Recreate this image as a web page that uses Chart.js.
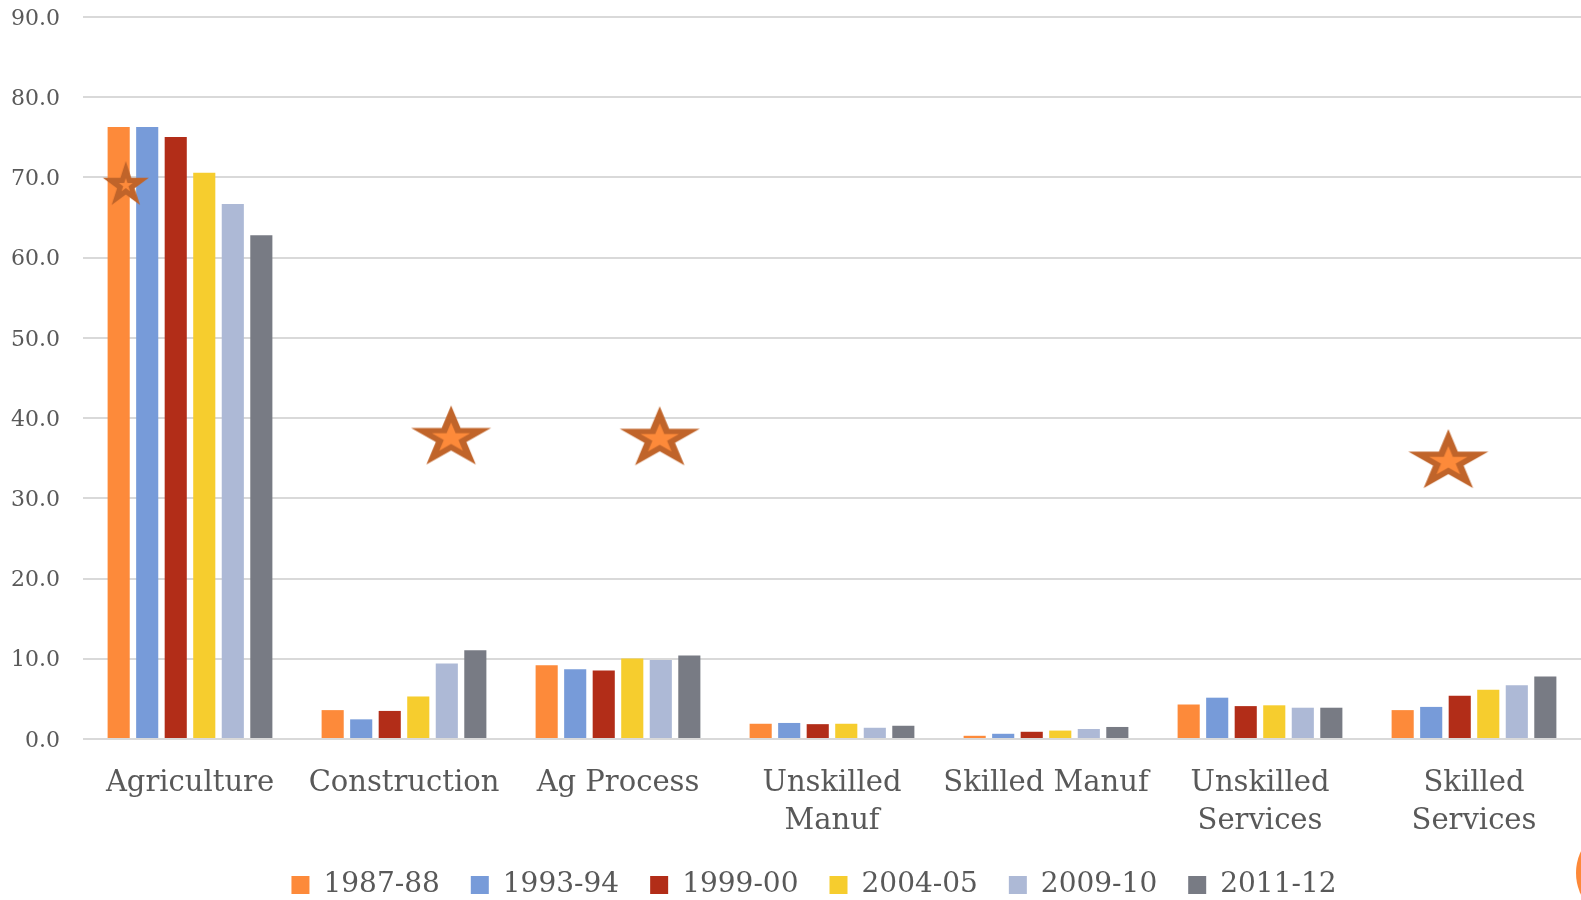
<!DOCTYPE html>
<html>
<head>
<meta charset="utf-8">
<title>Employment share by sector</title>
<script src="https://cdn.jsdelivr.net/npm/chart.js@4.4.1/dist/chart.umd.min.js"></script>
<style>
  html, body { margin: 0; padding: 0; background: #ffffff; overflow: hidden; width: 1581px; height: 900px; }
  #wrap { position: relative; width: 1581px; height: 900px; overflow: hidden; }
  #c { position: absolute; left: 0; top: 0; }
  #dot { position: absolute; left: 1576px; top: 823px; width: 100px; height: 100px; border-radius: 50%; background: #FD8838; }
</style>
</head>
<body>
<div id="wrap">
  <canvas id="c" width="1581" height="909"></canvas>
  <div id="dot"></div>
</div>
<script>
// Sectors (x-axis categories; arrays wrap onto two lines)
const categories = [
  'Agriculture',
  'Construction',
  'Ag Process',
  ['Unskilled', 'Manuf'],
  'Skilled Manuf',
  ['Unskilled', 'Services'],
  ['Skilled', 'Services']
];

// Survey rounds
const years = ['1987-88', '1993-94', '1999-00', '2004-05', '2009-10', '2011-12'];

// Share of employment (%) per sector, one array per round
const share1987 = [76.3, 3.6, 9.2, 1.9, 0.4, 4.3, 3.6];
const share1993 = [76.3, 2.45, 8.7, 2.0, 0.65, 5.15, 4.0];
const share1999 = [75.05, 3.5, 8.55, 1.85, 0.9, 4.1, 5.4];
const share2004 = [70.6, 5.3, 10.05, 1.9, 1.05, 4.2, 6.15];
const share2009 = [66.7, 9.4, 9.85, 1.4, 1.25, 3.9, 6.7];
const share2011 = [62.8, 11.05, 10.4, 1.65, 1.5, 3.9, 7.8];

// Y-axis tick values
const yTicks = [0, 10, 20, 30, 40, 50, 60, 70, 80, 90];

// Highlight stars: position in category units and value
const starX = [-0.30, 1.22, 2.195, 5.88];
const starY = [69.3, 37.9, 37.8, 34.95];

const seriesValues = [share1987, share1993, share1999, share2004, share2009, share2011];
const seriesColors = ['#FD8A3A', '#779BD9', '#B22D18', '#F6CD2E', '#ADB9D6', '#787B84'];

const TEXT = '#595959';
const FONT = "'DejaVu Serif', 'Liberation Serif', serif";

// Filled five-point star with a darker rim, drawn onto its own canvas
function makeStar(w, h, innerScale) {
  const pts = [];
  for (let k = 0; k < 10; k++) {
    const a = (-90 + k * 36) * Math.PI / 180;
    const r = k % 2 === 0 ? 1 : 0.382;
    pts.push([Math.cos(a) * r, Math.sin(a) * r]);
  }
  const sx = w / 1.902, sy = h / 1.809;
  const cv = document.createElement('canvas');
  cv.width = Math.ceil(w) + 2;
  cv.height = Math.ceil(h) + 2;
  const g = cv.getContext('2d');
  const cx = cv.width / 2;
  const cy = cv.height / 2 + 0.0955 * sy; // keeps the bounding box centred
  const path = (s) => {
    g.beginPath();
    pts.forEach(([px, py], i) => {
      const X = cx + px * sx * s, Y = cy + py * sy * s;
      if (i === 0) g.moveTo(X, Y); else g.lineTo(X, Y);
    });
    g.closePath();
  };
  path(1);
  g.fillStyle = '#C0642A';
  g.fill();
  path(innerScale);
  g.fillStyle = '#FD8A3A';
  g.fill();
  return cv;
}

const bigStar = makeStar(80, 59, 0.48);
const smallStar = makeStar(46, 44, 0.30);
const starStyles = [smallStar, bigStar, bigStar, bigStar];

const datasets = seriesValues.map((vals, i) => ({
  type: 'bar',
  label: years[i],
  data: vals.map((v, j) => ({ x: j, y: v })),
  backgroundColor: seriesColors[i],
  borderWidth: 0,
  categoryPercentage: 0.8,
  barPercentage: 0.775
}));

datasets.push({
  type: 'scatter',
  label: 'highlight',
  order: -1,
  data: starX.map((x, i) => ({ x: x, y: starY[i] })),
  pointStyle: starStyles,
  pointRadius: 6,
  pointHoverRadius: 6,
  showLine: false
});

// Centre the legend row on the span to the right of the tick labels
const legendNudge = {
  id: 'legendNudge',
  afterLayout(chart) {
    const lg = chart.legend;
    if (lg) { lg.left += 23.5; lg.right += 23.5; }
  }
};

new Chart(document.getElementById('c'), {
  type: 'bar',
  data: { datasets: datasets },
  plugins: [legendNudge],
  options: {
    responsive: false,
    animation: false,
    layout: { autoPadding: false, padding: { left: 0, top: 17, right: 0, bottom: 0 } },
    plugins: {
      tooltip: { enabled: false },
      legend: {
        position: 'bottom',
        labels: {
          color: TEXT,
          font: { family: FONT, size: 28 },
          boxWidth: 18,
          boxHeight: 18,
          padding: 31,
          filter: (item, data) => data.datasets[item.datasetIndex].type !== 'scatter'
        }
      }
    },
    scales: {
      x: {
        type: 'linear',
        min: -0.5,
        max: categories.length - 0.5,
        offset: false,
        afterBuildTicks: (s) => { s.ticks = categories.map((c, i) => ({ value: i })); },
        grid: { display: false, drawTicks: false, offset: false },
        border: { display: false },
        ticks: {
          color: TEXT,
          font: { family: FONT, size: 29, lineHeight: 1.33 },
          padding: 25,
          maxRotation: 0,
          autoSkip: false,
          callback: (v) => categories[Math.round(v)]
        },
        afterFit: (s) => { s.height = 101; }
      },
      y: {
        min: yTicks[0],
        max: yTicks[yTicks.length - 1],
        afterBuildTicks: (s) => { s.ticks = yTicks.map(v => ({ value: v })); },
        grid: { color: '#D9D9D9', lineWidth: 2, drawTicks: true, tickLength: 23, tickColor: 'rgba(0,0,0,0)' },
        border: { display: false },
        ticks: {
          color: TEXT,
          font: { family: FONT, size: 22 },
          padding: 0,
          labelOffset: 2,
          callback: (v) => Number(v).toFixed(1)
        },
        afterFit: (s) => { s.width = 83; }
      }
    }
  }
});
</script>
</body>
</html>
